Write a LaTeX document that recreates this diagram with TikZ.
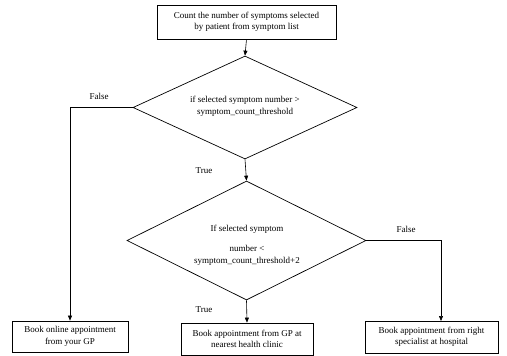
\documentclass[tikz,border=0pt]{standalone}
\usepackage{fontspec}
\setmainfont{Liberation Serif}
\usetikzlibrary{shapes.geometric,arrows.meta}
\begin{document}
\begin{tikzpicture}[x=1pt,y=1pt,
  font=\fontsize{9}{11.5}\selectfont,
  box/.style={draw,line width=0.7pt,rectangle,inner sep=0pt,align=center,
    preaction={draw,gray,line width=0.9pt,transform canvas={shift={(0.7pt,-0.7pt)}}}},
  dia/.style={draw,line width=0.7pt,diamond,inner sep=0pt},
  lbl/.style={inner sep=0pt,align=center},
  arr/.style={line width=0.6pt,-{Triangle[length=5pt,width=4pt]}}]
\useasboundingbox (0,0) rectangle (507,-356);
\node[box,minimum width=179pt,minimum height=34pt] (top) at (246.5,-22)
  {Count the number of symptoms selected\\by patient from symptom list};
\node[dia,minimum width=224pt,minimum height=103pt] (d1) at (245,-107.5) {};
\node[lbl] (t1) at (245,-106.5) {if selected symptom number >\\symptom\_count\_threshold};
\node[dia,minimum width=239pt,minimum height=119pt] (d2) at (246.5,-240.5) {};
\node[lbl] (t2a) at (247,-229) {If selected symptom};
\node[lbl] (t2b) at (247,-255.5) {number <\\symptom\_count\_threshold+2};
\node[box,minimum width=116pt,minimum height=31pt] (b1) at (70,-336.5)
  {Book online appointment\\from your GP};
\node[box,minimum width=132pt,minimum height=32pt] (b2) at (247,-339)
  {Book appointment from GP at\\nearest health clinic};
\node[box,minimum width=133pt,minimum height=32pt] (b3) at (431.5,-337)
  {Book appointment from right\\specialist at hospital};
\coordinate (c1) at (70,-107.5);
\coordinate (c2) at (441,-240.5);
\coordinate (e3) at (441,-321);
\draw[arr] (top.south) -- (d1.north);
\draw[arr] (d1.west) -- (c1) -- (b1.north);
\draw[arr] (d1.south) -- (d2.north);
\draw[arr] (d2.east) -- (c2) -- (e3);
\draw[arr] (d2.south) -- (b2.north);
\node[lbl] (f1) at (99,-96) {False};
\node[lbl] (tr1) at (204,-171) {True};
\node[lbl] (f2) at (406,-229) {False};
\node[lbl] (tr2) at (204,-310) {True};
\end{tikzpicture}
\end{document}
